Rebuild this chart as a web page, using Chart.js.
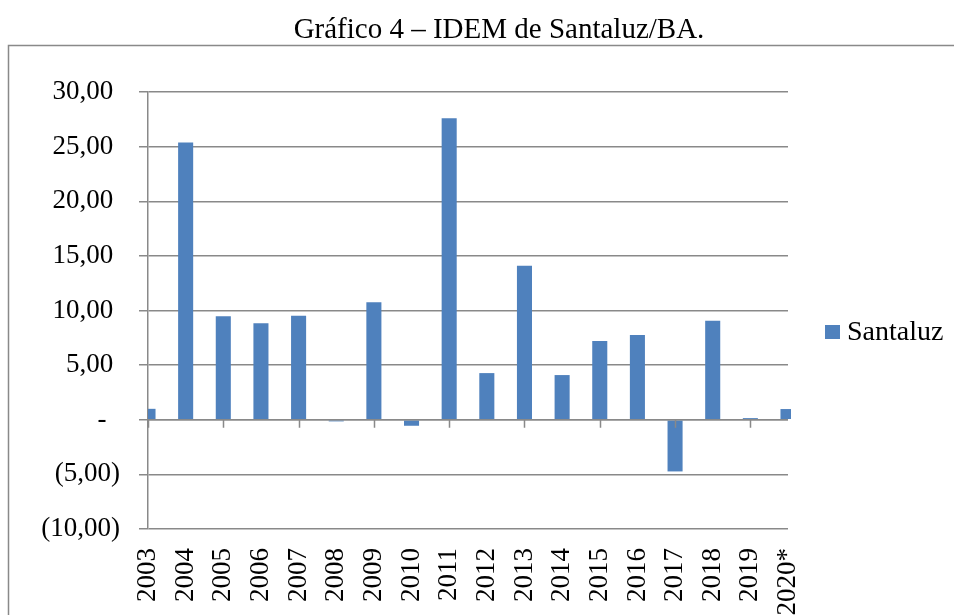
<!DOCTYPE html>
<html>
<head>
<meta charset="utf-8">
<title>IDEM de Santaluz/BA</title>
<script src="https://cdn.jsdelivr.net/npm/chart.js@4.4.1/dist/chart.umd.min.js"></script>
<style>
    body { margin: 0; background: #fff; }
    canvas { display: block; }
</style>
</head>
<body>
<canvas id="barChart" width="954" height="615"></canvas>
<script>
// dados
var years = ['2003', '2004', '2005', '2006', '2007', '2008', '2009', '2010', '2011',
    '2012', '2013', '2014', '2015', '2016', '2017', '2018', '2019', '2020*'];
var santaluz = [1.00, 25.37, 9.48, 8.84, 9.51, -0.15, 10.76, -0.55, 27.60,
    4.27, 14.09, 4.09, 7.20, 7.75, -4.73, 9.06, 0.15, 0.98];
var seriesName = 'Santaluz';
var chartTitle = 'Gráfico 4 – IDEM de Santaluz/BA.';

document.addEventListener('DOMContentLoaded', function () {
    var ctx = document.getElementById('barChart').getContext('2d');
    var gridColor = '#898989';
    var barColor = '#4F81BD';

    Chart.defaults.font.family = '"Liberation Serif", "Times New Roman", serif';
    Chart.defaults.color = '#000';

    function formatValue(value) {
        if (value === 0) {
            return '-  ';
        }
        var txt = Math.abs(value).toFixed(2).replace('.', ',');
        return value < 0 ? '(' + txt + ')' : txt + ' ';
    }

    // moldura, título e legenda (estilo Excel)
    var decorations = {
        id: 'decorations',
        beforeDraw: function (chart) {
            var c = chart.ctx;
            c.save();
            c.fillStyle = '#fff';
            c.fillRect(0, 0, chart.width, chart.height);
            c.strokeStyle = gridColor;
            c.lineWidth = 1.5;
            c.strokeRect(8.5, 45.5, 1200, 800);
            c.fillStyle = '#000';
            c.font = '29px "Liberation Serif", "Times New Roman", serif';
            c.textAlign = 'center';
            c.textBaseline = 'alphabetic';
            c.fillText(chartTitle, 499, 38);
            c.restore();
        },
        afterDatasetsDraw: function (chart) {
            var c = chart.ctx;
            var x = chart.scales.x;
            var y0 = chart.scales.y.getPixelForValue(0);
            var area = chart.chartArea;
            c.save();
            c.strokeStyle = gridColor;
            c.lineWidth = 1.5;
            c.beginPath();
            c.moveTo(area.left, y0);
            c.lineTo(area.right, y0);
            // marcas a cada duas categorias
            for (var i = 0; i < years.length; i += 2) {
                var px = Math.round(x.getPixelForValue(i)) + 0.5;
                c.moveTo(px, y0);
                c.lineTo(px, y0 + 8);
            }
            c.stroke();
            c.restore();
        },
        afterDraw: function (chart) {
            var c = chart.ctx;
            c.save();
            c.fillStyle = barColor;
            c.fillRect(825, 325, 15, 14);
            c.fillStyle = '#000';
            c.font = '28px "Liberation Serif", "Times New Roman", serif';
            c.textAlign = 'left';
            c.textBaseline = 'alphabetic';
            c.fillText(seriesName, 847, 340);
            c.restore();
        }
    };

    var chart = new Chart(ctx, {
        type: 'bar',
        data: {
            labels: years,
            datasets: [{
                label: seriesName,
                data: santaluz,
                backgroundColor: barColor,
                borderWidth: 0,
                barPercentage: 0.4,
                categoryPercentage: 1,
                clip: { left: 0, right: 3, top: false, bottom: false }
            }]
        },
        options: {
            responsive: false,
            animation: false,
            layout: {
                padding: { top: 92, left: 10, right: 166, bottom: 0 }
            },
            plugins: {
                legend: { display: false },
                title: { display: false },
                tooltip: { enabled: false }
            },
            scales: {
                x: {
                    offset: false,
                    grid: { display: false, drawTicks: false },
                    border: { display: false },
                    ticks: {
                        autoSkip: false,
                        maxRotation: 90,
                        minRotation: 90,
                        padding: 19,
                        font: { size: 27 }
                    },
                    afterFit: function (scale) {
                        scale.height = 86;
                    }
                },
                y: {
                    min: -10,
                    max: 30,
                    grid: {
                        color: gridColor,
                        lineWidth: 1.5,
                        tickLength: 9
                    },
                    border: { display: true, color: gridColor, width: 1.5 },
                    ticks: {
                        stepSize: 5,
                        padding: 19,
                        font: { size: 27 },
                        callback: function (value) {
                            return formatValue(value);
                        }
                    },
                    afterFit: function (scale) {
                        scale.width = 138;
                    }
                }
            }
        },
        plugins: [decorations]
    });
});
</script>
</body>
</html>
